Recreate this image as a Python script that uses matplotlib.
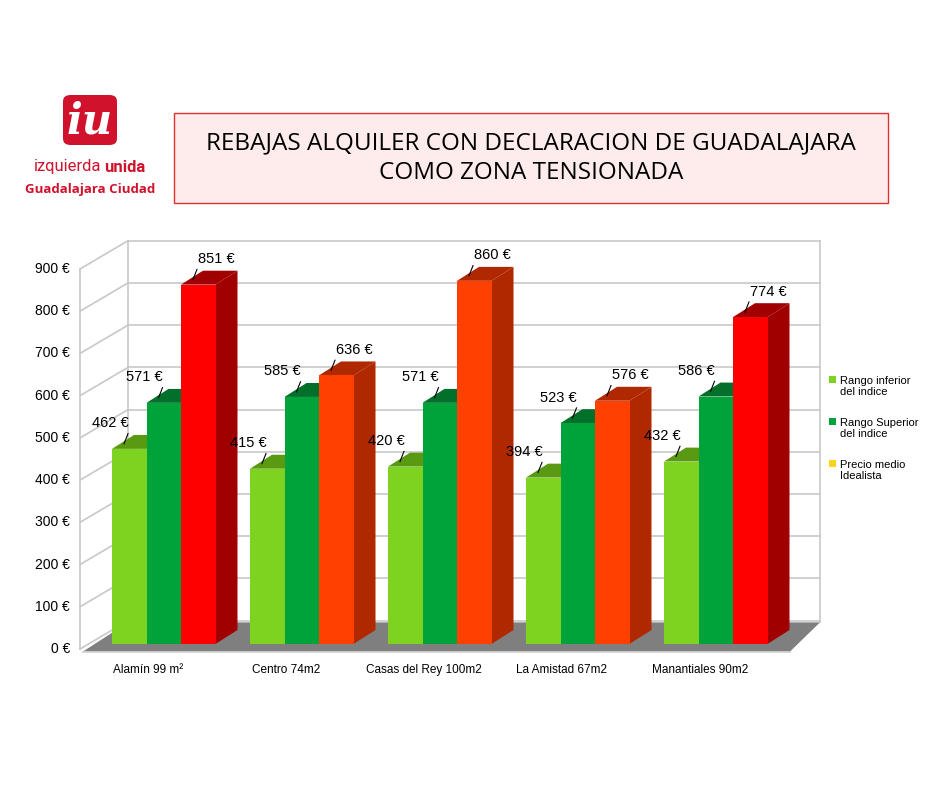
import matplotlib
matplotlib.use("Agg")
import matplotlib.pyplot as plt
from matplotlib.patches import Polygon, Rectangle, FancyBboxPatch

zones = ["Alamín 99 m²", "Centro 74m2", "Casas del Rey 100m2", "La Amistad 67m2", "Manantiales 90m2"]
rango_inferior = [462, 415, 420, 394, 432]
rango_superior = [571, 585, 571, 523, 586]
precio_idealista = [851, 636, 860, 576, 774]
series_labels = ["Rango inferior\ndel indice", "Rango Superior\ndel indice", "Precio medio\nIdealista"]
yticks = list(range(0, 1000, 100))

W, H = 940, 788
fig = plt.figure(figsize=(W / 100, H / 100), dpi=100)
fig.patch.set_facecolor("white")

# axes in pixel-ish x units, value units in y
x0, x1, yb, yt = 80, 820, 649, 269
ax = fig.add_axes([x0 / W, 1 - yb / H, (x1 - x0) / W, (yb - yt) / H])
ax.set_xlim(x0, x1)
ax.set_ylim(0, 900)
ax.axis("off")

DX, DY = 48, 67          # wall depth
bdx, bdy, base = 22, 33, 12  # bar depth / front shift

# floor
ax.add_patch(Polygon([(83, -6), (790, -6), (820, DY - 4), (128, DY - 4)], closed=True,
                     facecolor="#7f7f7f", edgecolor="none", clip_on=False, zorder=1))
ax.plot([83, 790], [-6, -6], color="#cfcfcf", lw=1.2, clip_on=False, zorder=1)
# back wall grid
for v in yticks:
    ax.plot([128, 820], [v + DY, v + DY], color="#c8c8c8", lw=1.2, clip_on=False, zorder=0)
    ax.plot([x0, 128], [v, v + DY], color="#c8c8c8", lw=1.2, clip_on=False, zorder=0)
    ax.text(70, v, f"{v} €", ha="right", va="center", fontsize=10, family="Liberation Sans")
ax.plot([128, 128], [DY, 900 + DY], color="#c8c8c8", lw=1.2, clip_on=False, zorder=0)
ax.plot([820, 820], [DY - 4, 900 + DY], color="#c8c8c8", lw=1.2, clip_on=False, zorder=0)
ax.plot([x0, x0], [0, 900], color="#c8c8c8", lw=1.2, clip_on=False, zorder=0)

front_cols = ["#7ed321", "#00a33a", None]
side_cols = ["#5a9a12", "#00702a", None]
bw = 34.5
for g in range(len(zones)):
    red = g in (0, 4)
    fc = front_cols[:2] + ["#ff0000" if red else "#ff4000"]
    sc = side_cols[:2] + ["#a00000" if red else "#b02800"]
    vals = [rango_inferior[g], rango_superior[g], precio_idealista[g]]
    for k, v in enumerate(vals):
        left = 112 + g * 138 + k * bw
        top = v + base
        z = 3 + k
        ax.add_patch(Polygon([(left + bw, base), (left + bw + bdx, base + bdy),
                              (left + bw + bdx, top + bdy), (left + bw, top)],
                             closed=True, facecolor=sc[k], edgecolor="none", zorder=z, clip_on=False))
        ax.add_patch(Polygon([(left, top), (left + bdx, top + bdy), (left + bw + bdx, top + bdy),
                              (left + bw, top)], closed=True, facecolor=sc[k], edgecolor="none",
                             zorder=z, clip_on=False))
        ax.bar(left, top - base, width=bw, bottom=base, align="edge", color=fc[k], zorder=z + 0.5,
               clip_on=False)
        lx = left + 12
        ax.plot([lx, lx + 4], [top + 12, top + 36], color="black", lw=0.8, zorder=10, clip_on=False)
        ax.text(lx - 14 if k < 2 else lx + 5, top + 44, f"{v} €", ha="center" if k < 2 else "left",
                va="bottom", fontsize=10.5, family="Liberation Sans", zorder=11)
    ax.text(112 + g * 138 + 36, -50, zones[g], ha="center", va="center", fontsize=8.5,
            family="Liberation Sans")

# legend
leg_cols = ["#7ed321", "#00a33a", "#ffd320"]
for i, (lab, c) in enumerate(zip(series_labels, leg_cols)):
    y = 378 + i * 42
    fig.patches.append(Rectangle((829 / W, 1 - (y + 5) / H), 7 / W, 7 / H, transform=fig.transFigure,
                                 facecolor=c, edgecolor="none"))
    fig.text(840 / W, 1 - (y - 2) / H, lab, ha="left", va="top", fontsize=8, family="Liberation Sans",
             linespacing=1.1)

# title box
fig.patches.append(Rectangle((174 / W, 1 - 203 / H), 714 / W, 90 / H, transform=fig.transFigure,
                             facecolor="#fdeceb", edgecolor="#e03030", lw=1))
fig.text(531 / W, 1 - 158 / H, "REBAJAS ALQUILER CON DECLARACION DE GUADALAJARA\nCOMO ZONA TENSIONADA",
         ha="center", va="center", fontsize=17.5, family="Open Sans", linespacing=1.3)

# logo
fig.patches.append(FancyBboxPatch((63 / W, 1 - 145 / H), 54 / W, 50 / H, transform=fig.transFigure,
                                  boxstyle="round,pad=0,rounding_size=0.008", facecolor="#d0122d",
                                  edgecolor="none"))
fig.text(90 / W, 1 - 122 / H, "iu", ha="center", va="center", fontsize=30, color="white",
         fontweight="bold", style="italic", family="DejaVu Serif")
fig.text(34 / W, 1 - 167 / H, "izquierda", ha="left", va="center", fontsize=12, color="#d0122d",
         family="Roboto")
fig.text(104 / W, 1 - 167 / H, "unida", ha="left", va="center", fontsize=12, color="#d0122d",
         family="Roboto", fontweight="bold")
fig.text(90 / W, 1 - 189 / H, "Guadalajara Ciudad", ha="center", va="center", fontsize=9.5,
         color="#d0122d", family="Open Sans", fontweight="bold")

fig.savefig("out.png", dpi=100)
